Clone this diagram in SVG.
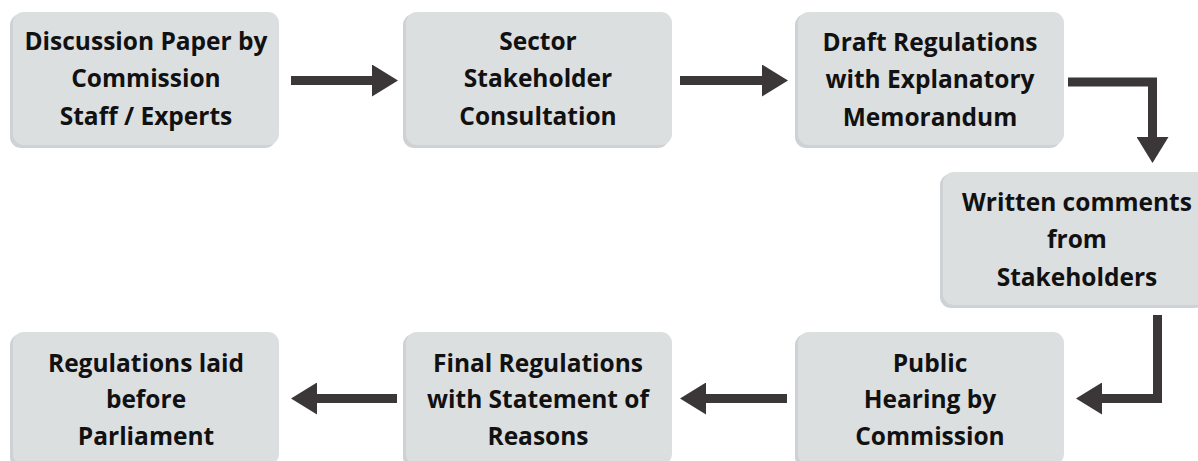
<svg xmlns="http://www.w3.org/2000/svg" width="1198" height="461" viewBox="0 0 1198 461">
<defs>
<style>
.sh{fill:#cfd2d4}
.bx{fill:#dcdfe0}
.t{font-family:"Open Sans","Lato","Liberation Sans",sans-serif;font-weight:700;font-size:24.5px;fill:#111111;text-anchor:middle}
.c{fill:none;stroke:#3b3638;stroke-width:9;stroke-linejoin:miter;marker-end:url(#ah)}
</style>
<marker id="ah" markerUnits="userSpaceOnUse" markerWidth="26" markerHeight="32" refX="0" refY="16" orient="auto" viewBox="0 0 26 32">
<path d="M0,0 L26,16 L0,32 z" fill="#3b3638"/>
</marker>
</defs>
<rect width="1198" height="461" fill="#ffffff"/>
<g id="n1">
<rect class="sh" x="10" y="14" width="266" height="134" rx="11"/>
<rect class="bx" x="13" y="12" width="266" height="133" rx="11"/>
<text class="t" x="146" y="50">Discussion Paper by</text>
<text class="t" x="146" y="87">Commission</text>
<text class="t" x="146" y="125">Staff / Experts</text>
</g>
<g id="n2">
<rect class="sh" x="403" y="14" width="266" height="134" rx="11"/>
<rect class="bx" x="406" y="12" width="266" height="133" rx="11"/>
<text class="t" x="538" y="50">Sector</text>
<text class="t" x="538" y="87">Stakeholder</text>
<text class="t" x="538" y="125">Consultation</text>
</g>
<g id="n3">
<rect class="sh" x="795" y="14" width="266" height="134" rx="11"/>
<rect class="bx" x="798" y="12" width="266" height="133" rx="11"/>
<text class="t" x="930" y="51">Draft Regulations</text>
<text class="t" x="930" y="88">with Explanatory</text>
<text class="t" x="930" y="126">Memorandum</text>
</g>
<g id="n4">
<rect class="sh" x="940" y="174" width="266" height="134" rx="11"/>
<rect class="bx" x="943" y="172" width="266" height="133" rx="11"/>
<text class="t" x="1077" y="211">Written comments</text>
<text class="t" x="1077" y="248">from</text>
<text class="t" x="1077" y="286">Stakeholders</text>
</g>
<g id="n5">
<rect class="sh" x="795" y="334" width="266" height="134" rx="11"/>
<rect class="bx" x="798" y="332" width="266" height="133" rx="11"/>
<text class="t" x="930" y="372">Public</text>
<text class="t" x="930" y="408">Hearing by</text>
<text class="t" x="930" y="445">Commission</text>
</g>
<g id="n6">
<rect class="sh" x="403" y="334" width="266" height="134" rx="11"/>
<rect class="bx" x="406" y="332" width="266" height="133" rx="11"/>
<text class="t" x="538" y="372">Final Regulations</text>
<text class="t" x="538" y="408">with Statement of</text>
<text class="t" x="538" y="445">Reasons</text>
</g>
<g id="n7">
<rect class="sh" x="10" y="334" width="266" height="134" rx="11"/>
<rect class="bx" x="13" y="332" width="266" height="133" rx="11"/>
<text class="t" x="146" y="372">Regulations laid</text>
<text class="t" x="146" y="408">before</text>
<text class="t" x="146" y="445">Parliament</text>
</g>
<g id="connectors">
<path class="c" d="M291,80.5 H372"/>
<path class="c" d="M680,80.5 H762"/>
<path class="c" d="M1068,82 H1152.5 V137"/>
<path class="c" d="M1157.5,315 V398.5 H1102"/>
<path class="c" d="M787,398.5 H706"/>
<path class="c" d="M397,398.5 H317"/>
</g>
</svg>
